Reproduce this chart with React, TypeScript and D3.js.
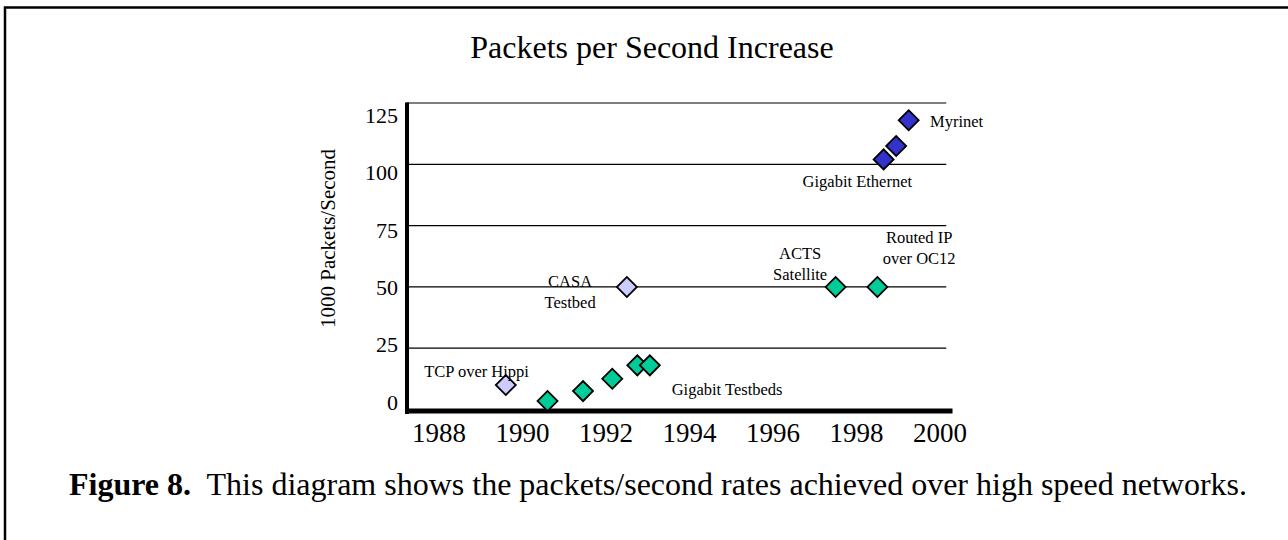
import { scaleLinear, symbol, symbolSquare } from "d3";

const yTicks = [0, 25, 50, 75, 100, 125];
const xTicks = [1988, 1990, 1992, 1994, 1996, 1998, 2000];

// three marker groups
const lavenderYears = [1989.6, 1992.5];
const lavenderValues = [10, 50];
const greenYears = [1990.6, 1991.45, 1992.15, 1992.75, 1993.05, 1997.5, 1998.5];
const greenValues = [3.5, 7.5, 12.5, 18, 18, 50, 50];
const blueYears = [1998.65, 1998.95, 1999.25];
const blueValues = [102, 107.5, 118];

const noteLines = [["CASA", "Testbed"], ["TCP over Hippi"], ["Gigabit Testbeds"], ["ACTS", "Satellite"], ["Routed IP", "over OC12"], ["Gigabit Ethernet"], ["Myrinet"]];
const noteYears = [1991.14, 1988.9, 1994.9, 1996.65, 1999.5, 1998.02, 1999.76];
const noteValues = [50, 13.2, 5.9, 61.2, 67.8, 90.7, 115.2];

const serif = "'Liberation Serif', 'Times New Roman', serif";

export default function App() {
  const x = scaleLinear().domain([1988, 2000]).range([439, 940]);
  const y = scaleLinear().domain([0, 125]).range([409.5, 103]);
  // tick labels sit on a slightly tighter spacing than the grid
  const yLabel = scaleLinear().domain([0, 125]).range([402, 115]);
  const left = x(1987.22);
  const right = x(2000.3);

  // square turned 45 degrees = the diamond marker
  const diamond = symbol().type(symbolSquare).size(200)() as string;

  const series = [
    { years: lavenderYears, values: lavenderValues, color: "#ccccff" },
    { years: greenYears, values: greenValues, color: "#00cc99" },
    { years: blueYears, values: blueValues, color: "#3333cc" },
  ];

  return (
    <div style={{ position: "absolute", left: 0, top: 0 }}>
      <svg width={1288} height={540} style={{ display: "block", background: "#fff" }} fontFamily={serif}>
        {/* page frame, only the top and left edges show */}
        <path d="M5,545 L5,7.5 L1295,7.5" fill="none" stroke="#000" strokeWidth={2.5} />

        <text x={652} y={58} textAnchor="middle" fontSize={32}>
          Packets per Second Increase
        </text>

        {/* grid */}
        {yTicks.slice(1).map((v) => (
          <line key={v} x1={left} x2={x(2000.15)} y1={y(v)} y2={y(v)} stroke="#000" strokeWidth={1.2} />
        ))}

        {/* axes */}
        <line x1={407} x2={407} y1={y(125) - 0.5} y2={414} stroke="#000" strokeWidth={4} />
        <line x1={405} x2={right} y1={411} y2={411} stroke="#000" strokeWidth={5} />

        {yTicks.map((v) => (
          <text key={v} x={398} y={yLabel(v)} dy="0.35em" textAnchor="end" fontSize={22}>
            {v}
          </text>
        ))}
        {xTicks.map((t) => (
          <text key={t} x={x(t)} y={442} textAnchor="middle" fontSize={27}>
            {t}
          </text>
        ))}

        <text transform="translate(335,238.5) rotate(-90)" textAnchor="middle" fontSize={21}>
          1000 Packets/Second
        </text>

        {/* markers */}
        {series.map((s, si) =>
          s.years.map((yr, i) => (
            <path
              key={`${si}-${i}`}
              d={diamond}
              transform={`translate(${x(yr)},${y(s.values[i])}) rotate(45)`}
              fill={s.color}
              stroke="#000"
              strokeWidth={1.8}
            />
          ))
        )}

        {/* annotations */}
        {noteLines.map((lines, i) => (
          <text
            key={i}
            x={x(noteYears[i])}
            y={y(noteValues[i])}
            textAnchor={i === 6 ? "start" : "middle"}
            fontSize={16.5}
          >
            {lines.map((l, j) => (
              <tspan key={j} x={x(noteYears[i])} dy={j === 0 ? 0 : 21}>
                {l}
              </tspan>
            ))}
          </text>
        ))}

        <text x={69} y={495} fontSize={32}>
          <tspan fontWeight="bold">Figure 8.</tspan>
          <tspan>{"\u00a0 This diagram shows the packets/second rates achieved over high speed networks."}</tspan>
        </text>
      </svg>
    </div>
  );
}
